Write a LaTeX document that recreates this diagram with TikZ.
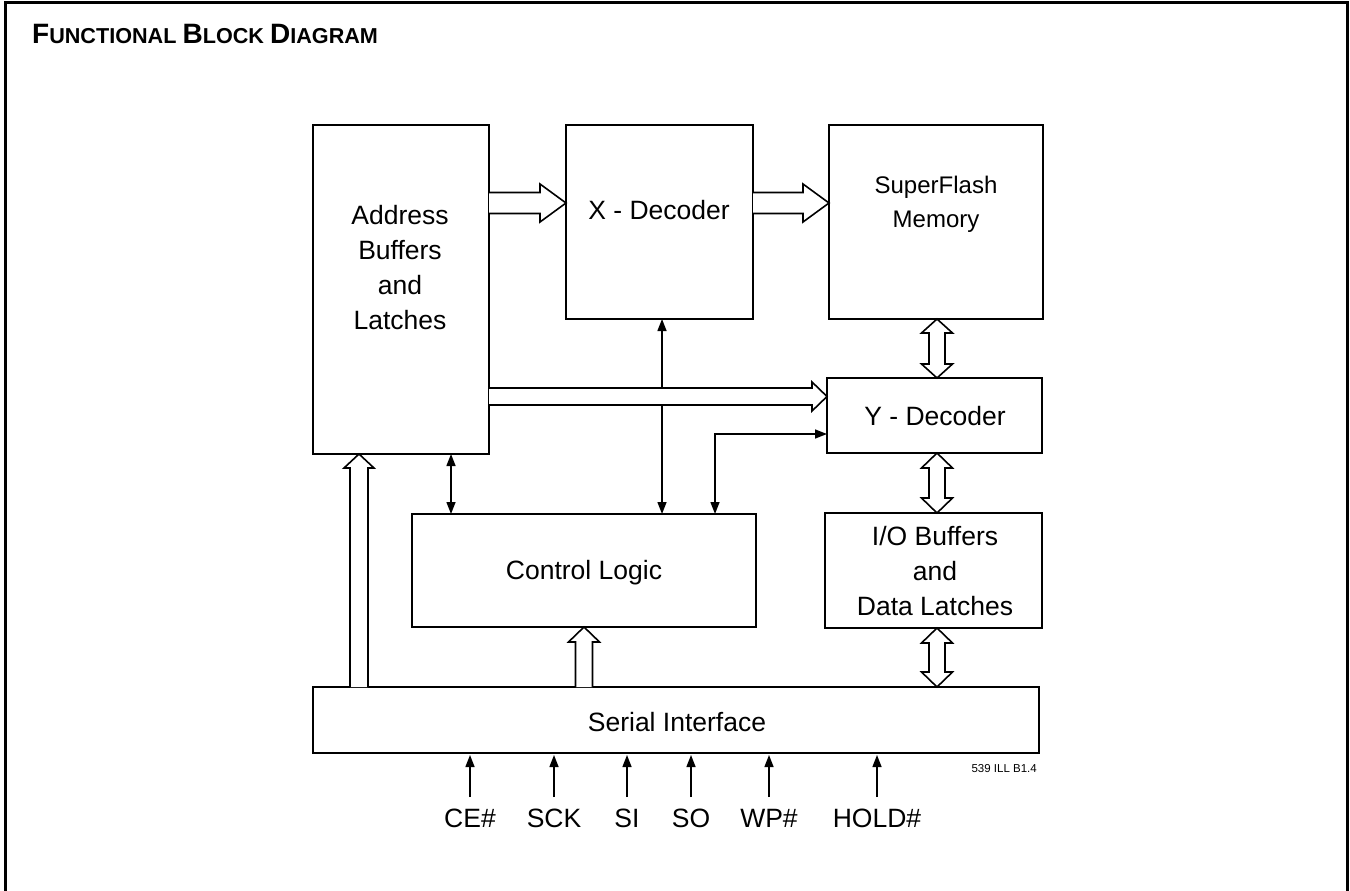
\documentclass[tikz,border=0pt]{standalone}
\usepackage{fontspec}
\setmainfont{Liberation Sans}
\usetikzlibrary{arrows.meta}
\newcommand\tbig[1]{{\fontsize{28}{28}\selectfont #1}}
\newcommand\tsmall[1]{{\fontsize{21.6}{22}\selectfont #1}}
% hollow arrow to the right: y, x1, x2, shaft half, head half, head length
\newcommand\hright[6]{\path[hol] (#2,#1-#4) -- (#3-#6,#1-#4) -- (#3-#6,#1-#5) -- (#3,#1) -- (#3-#6,#1+#5) -- (#3-#6,#1+#4) -- (#2,#1+#4);}
% hollow arrow upward: x, ybottom, ytip, shaft half, head half, head length
\newcommand\hup[6]{\path[hol] (#1-#4,#2) -- (#1-#4,#3+#6) -- (#1-#5,#3+#6) -- (#1,#3) -- (#1+#5,#3+#6) -- (#1+#4,#3+#6) -- (#1+#4,#2);}
% hollow double arrow vertical: x, ytop, ybottom, shaft half, head half, head length
\newcommand\hdbl[6]{\path[hol] (#1,#2) -- (#1+#5,#2+#6) -- (#1+#4,#2+#6) -- (#1+#4,#3-#6) -- (#1+#5,#3-#6) -- (#1,#3) -- (#1-#5,#3-#6) -- (#1-#4,#3-#6) -- (#1-#4,#2+#6) -- (#1-#5,#2+#6) -- cycle;}
\begin{document}
\begin{tikzpicture}[x=1pt,y=-1pt,
  blk/.style={draw,line width=1.6pt,inner sep=0pt,outer sep=0pt,anchor=north west},
  lbl/.style={font=\fontsize{26.5}{35}\selectfont,align=center,inner sep=0pt},
  hol/.style={draw,fill=white,line width=1.6pt,line join=miter},
  thin/.style={line width=1.4pt,{Triangle[length=12pt,width=9pt]}-{Triangle[length=12pt,width=9pt]}},
  sig/.style={line width=1.4pt,-{Triangle[length=12pt,width=9pt]}}]
\useasboundingbox (0,0) rectangle (1350,891);
% frame
\draw[line width=3pt] (5,891) -- (5,2.5) -- (1347.5,2.5) -- (1347.5,891);
\node[anchor=base west,inner sep=0pt,font=\fontsize{22}{22}\selectfont\bfseries] (title) at (32,44)
  {\tbig{F}\tsmall{UNCTIONAL} \tbig{B}\tsmall{LOCK} \tbig{D}\tsmall{IAGRAM}};
% blocks
\node[blk,minimum width=176pt,minimum height=329pt] (addr) at (313,125) {};
\node[blk,minimum width=187pt,minimum height=194pt] (xdec) at (566,125) {};
\node[blk,minimum width=214pt,minimum height=194pt] (sf) at (829,125) {};
\node[blk,minimum width=215pt,minimum height=75pt] (ydec) at (827,378) {};
\node[blk,minimum width=217pt,minimum height=115pt] (io) at (825,513) {};
\node[blk,minimum width=344pt,minimum height=113pt] (ctl) at (412,514) {};
\node[blk,minimum width=726pt,minimum height=66pt] (ser) at (313,687) {};
% labels
\node[lbl] (addrt) at (400,268) {Address\\Buffers\\and\\Latches};
\node[lbl] (xdect) at (659,210) {X - Decoder};
\node[lbl,font=\fontsize{24}{34}\selectfont] (sft) at (936,204) {SuperFlash\\Memory};
\node[lbl] (ydect) at (935,416) {Y - Decoder};
\node[lbl] (iot) at (935,571) {I/O Buffers\\and\\Data Latches};
\node[lbl] (ctlt) at (584,573) {Control Logic};
\node[lbl] (sert) at (677,722) {Serial Interface};
\node[anchor=base east,inner sep=0pt,font=\fontsize{11.5}{12}\selectfont] (ill) at (1037,772) {539 ILL B1.4};
% thin connectors
\coordinate (a1) at (662,319); \coordinate (a2) at (662,514);
\draw[thin] (a1) -- (a2);
\coordinate (b1) at (451,454); \coordinate (b2) at (451,514);
\draw[thin] (b1) -- (b2);
\coordinate (c1) at (715,514); \coordinate (c2) at (827,434);
\draw[thin] (c1) |- (c2);
% hollow arrows
\hright{203}{489}{566}{10.5}{19}{26}
\hright{203}{753}{829}{10.5}{19}{26}
\hright{396.5}{489}{827}{8.5}{14.5}{15}
\hup{359}{687}{454}{9}{15}{14}
\hup{584}{687}{627}{8.5}{15.5}{15}
\hdbl{937}{319}{378}{8}{15.5}{14}
\hdbl{937}{453}{513}{8}{15.5}{15}
\hdbl{937}{628}{687}{8}{15.5}{15}
% signals
\foreach \x/\t/\n in {470/CE\#/ce,554/SCK/sck,627/SI/si,691/SO/so,769/WP\#/wp,877/HOLD\#/hold}{
  \node[lbl,anchor=base] (\n) at (\x,827) {\t};
  \coordinate (\n s) at (\x,797);
  \coordinate (\n e) at (\x,755);
  \draw[sig] (\n s) -- (\n e);
}
\end{tikzpicture}
\end{document}
